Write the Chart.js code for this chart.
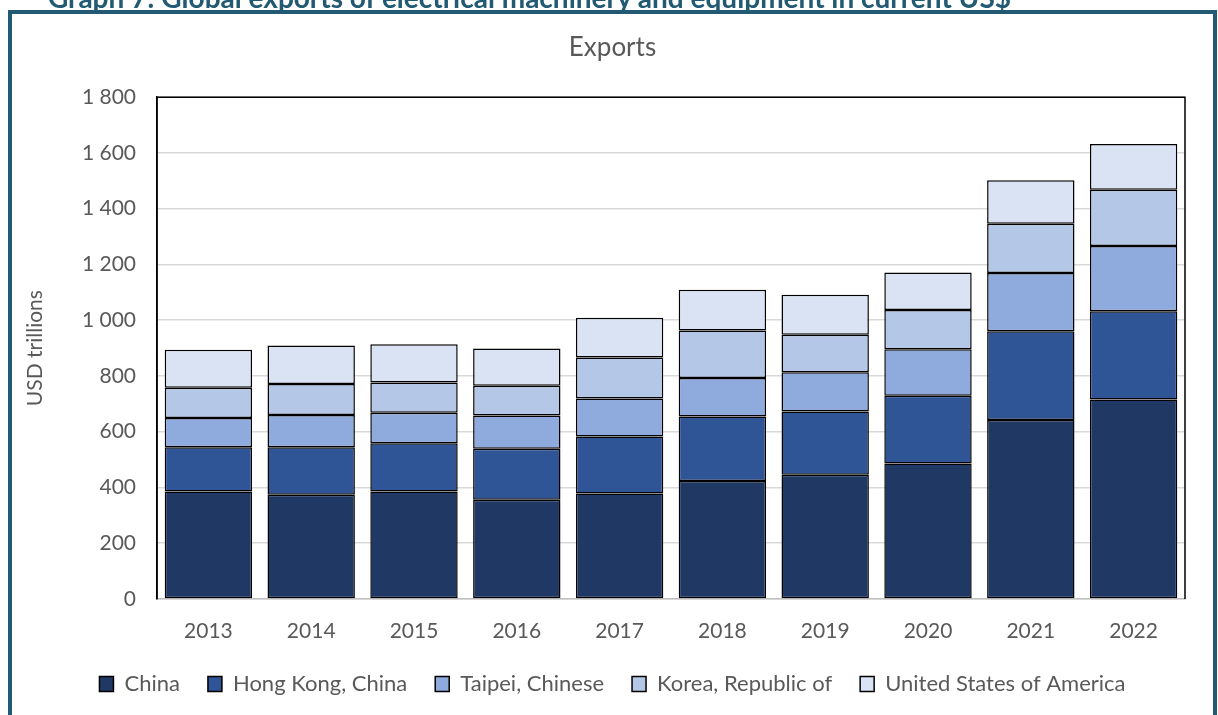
<!DOCTYPE html>
<html>
<head>
<meta charset="utf-8">
<script src="https://cdn.jsdelivr.net/npm/chart.js@4.4.1/dist/chart.umd.min.js"></script>
<style>
  html, body { margin: 0; padding: 0; background: #fff; overflow: hidden; }
  #wrap { position: relative; width: 1218px; height: 715px; }
  #chart_exports { position: absolute; left: 0; top: 0; }
  #frame {
    position: absolute; left: 8px; top: 10px; width: 1201px; height: 800px;
    border: 4px solid #215a72; pointer-events: none;
  }
  #heading {
    position: absolute; left: 48px; top: -20px; white-space: nowrap;
    font: bold 28px Lato, "Open Sans", sans-serif; color: #215a72;
  }
</style>
</head>
<body>
<div id="wrap">
  <canvas id="chart_exports" width="1218" height="715"></canvas>
  <div id="heading">Graph 7: Global exports of electrical machinery and equipment in current US$</div>
  <div id="frame"></div>
</div>
<script>
var years = ['2013', '2014', '2015', '2016', '2017', '2018', '2019', '2020', '2021', '2022'];
var china = [386, 374, 386, 356, 378, 423, 446, 486, 642, 716];
var hongKong = [158, 170, 173, 183, 205, 232, 227, 243, 318, 316];
var taipei = [105, 116, 109, 119, 136, 138, 140, 167, 209, 234];
var korea = [109, 111, 109, 107, 147, 170, 135, 141, 177, 202];
var usa = [136, 138, 137, 134, 143, 146, 143, 134, 156, 164];

var textGrey = '#595959';
var fontFamily = 'Lato, "Open Sans", sans-serif';

function series(label, data, colour) {
    return {
        label: label,
        data: data,
        backgroundColor: colour,
        borderColor: '#000000',
        borderWidth: 1.5,
        borderSkipped: false,
        barPercentage: 0.85,
        categoryPercentage: 1.0
    };
}

var chart_exports = new Chart(document.getElementById('chart_exports'), {
    type: 'bar',
    data: {
        labels: years,
        datasets: [
            series('China', china, '#203864'),
            series('Hong Kong, China', hongKong, '#2f5597'),
            series('Taipei, Chinese', taipei, '#8faadc'),
            series('Korea, Republic of', korea, '#b4c7e7'),
            series('United States of America', usa, '#dae3f3')
        ]
    },
    options: {
        animation: false,
        responsive: false,
        maintainAspectRatio: false,
        layout: {
            padding: { top: 32, left: 23, right: 16, bottom: 10 }
        },
        plugins: {
            title: {
                display: true,
                text: 'Exports',
                color: textGrey,
                font: { family: fontFamily, size: 26, weight: 'normal' },
                padding: { top: 0, bottom: 34 }
            },
            legend: {
                position: 'bottom',
                labels: {
                    color: textGrey,
                    font: { family: fontFamily, size: 22 },
                    boxWidth: 14,
                    boxHeight: 15,
                    padding: 28
                }
            },
            tooltip: { enabled: false }
        },
        scales: {
            x: {
                stacked: true,
                grid: { display: false, drawTicks: false },
                border: { display: true, color: '#bfbfbf', width: 1.5 },
                ticks: {
                    color: textGrey,
                    font: { family: fontFamily, size: 21 },
                    padding: 20
                },
                afterFit: function (axis) { axis.height = 46; }
            },
            y: {
                stacked: true,
                min: 0,
                max: 1800,
                grid: { color: '#d9d9d9', lineWidth: 1.5, drawTicks: false },
                border: { display: true, color: '#000000', width: 1.5 },
                title: {
                    display: true,
                    text: 'USD trillions',
                    color: textGrey,
                    font: { family: fontFamily, size: 21 },
                    padding: { top: 0, bottom: 0 }
                },
                ticks: {
                    stepSize: 200,
                    color: textGrey,
                    font: { family: fontFamily, size: 21 },
                    padding: 21,
                    callback: function (v) {
                        return String(v).replace(/\B(?=(\d{3})+(?!\d))/g, ' ');
                    }
                },
                afterFit: function (axis) { axis.width = 134; }
            },
            yRight: {
                position: 'right',
                display: true,
                grid: { display: false, drawTicks: false },
                border: { display: false },
                ticks: { display: false },
                afterFit: function (axis) { axis.width = 17; }
            }
        }
    },
    plugins: [{
        id: 'plotFrame',
        beforeDraw: function (chart) {
            var ctx = chart.ctx;
            ctx.save();
            ctx.fillStyle = 'white';
            ctx.fillRect(0, 0, chart.width, chart.height);
            ctx.restore();
        },
        afterDraw: function (chart) {
            var a = chart.chartArea;
            var ctx = chart.ctx;
            ctx.save();
            ctx.strokeStyle = '#000000';
            ctx.lineWidth = 1.5;
            ctx.beginPath();
            ctx.moveTo(a.left, a.bottom);
            ctx.lineTo(a.left, a.top);
            ctx.lineTo(a.right, a.top);
            ctx.lineTo(a.right, a.bottom);
            ctx.stroke();
            ctx.restore();
        }
    }]
});
</script>
</body>
</html>
